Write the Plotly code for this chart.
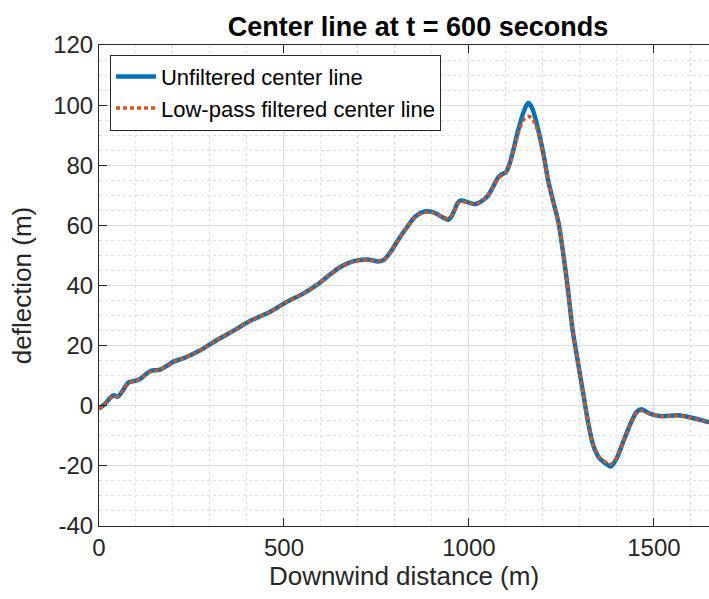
import plotly.graph_objects as go

# Downwind distance (m) sampled along the plume center line
distance = [0, 15, 30, 40, 50, 62, 80, 97, 110, 125, 140, 165, 185, 200, 228, 255,
            282, 318, 363, 408, 462, 507, 552, 588, 620, 650, 680, 705, 730, 755,
            770, 790, 813, 835, 854, 870, 886, 900, 912, 930, 944, 952, 960, 970,
            978, 994, 1010, 1021, 1040, 1052, 1066, 1080, 1092, 1100, 1110, 1120,
            1133, 1148, 1160, 1170, 1183, 1201, 1215, 1232, 1242, 1255, 1269, 1280,
            1296, 1309, 1322, 1336, 1354, 1372, 1384, 1399, 1417, 1435, 1453, 1467,
            1489, 1521, 1566, 1602, 1649]

# Deflection (m) of the raw center line
unfiltered = [-1.0, 0.5, 2.6, 3.5, 3.0, 4.6, 7.8, 8.3, 8.8, 10.3, 11.6, 12.0, 13.4, 14.6,
              15.8, 17.3, 19.0, 21.8, 24.9, 28.2, 31.2, 34.5, 37.3, 40.1, 43.2, 46.0,
              47.8, 48.5, 48.6, 48.0, 48.5, 51.5, 56.0, 59.8, 62.8, 64.2, 64.7, 64.5,
              63.9, 62.6, 61.9, 62.8, 64.8, 67.5, 68.3, 67.8, 67.2, 67.2, 68.5, 70.0,
              73.0, 76.1, 77.2, 77.6, 80.5, 85.0, 91.6, 97.8, 100.7, 99.3, 94.0, 84.0,
              74.5, 66.0, 61.0, 50.6, 37.3, 25.5, 13.5, 4.0, -5.4, -13.1, -17.6, -19.4,
              -20.2, -17.6, -12.0, -6.5, -2.1, -1.2, -2.6, -3.5, -3.2, -4.0, -5.5]

# Deflection (m) after the low-pass filter
filtered = [-1.0, 0.6, 2.4, 3.3, 3.1, 4.5, 7.5, 8.2, 8.8, 10.2, 11.4, 12.0, 13.4, 14.6,
            15.8, 17.3, 19.0, 21.8, 24.9, 28.2, 31.2, 34.5, 37.3, 40.1, 43.2, 46.0,
            47.7, 48.4, 48.5, 48.1, 48.6, 51.5, 56.0, 59.8, 62.6, 63.9, 64.4, 64.3,
            63.7, 62.7, 62.2, 63.0, 64.8, 67.2, 67.9, 67.7, 67.2, 67.2, 68.5, 70.0,
            73.0, 75.8, 77.0, 77.6, 80.3, 84.6, 90.5, 95.2, 96.3, 95.6, 92.5, 83.5,
            74.3, 66.0, 61.0, 50.6, 37.3, 25.5, 13.5, 4.0, -5.4, -13.0, -17.3, -18.9,
            -19.4, -17.3, -12.0, -6.6, -2.4, -1.7, -2.7, -3.5, -3.3, -4.0, -5.5]

# Axis tick positions and labels (plain hyphen for negatives)
x_ticks = [0, 500, 1000, 1500]
y_ticks = [-40, -20, 0, 20, 40, 60, 80, 100, 120]
y_tick_labels = ["-40", "-20", "0", "20", "40", "60", "80", "100", "120"]

axis_color = "#262626"
grid_color = "#dedede"
font_family = "Liberation Sans, Arial, Helvetica, sans-serif"

fig = go.Figure()
fig.add_trace(go.Scatter(
    x=distance, y=unfiltered, mode="lines",
    name="Unfiltered center line",
    line=dict(color="#0072BD", width=4.5, shape="spline", smoothing=0.8),
))
fig.add_trace(go.Scatter(
    x=distance, y=filtered, mode="lines",
    name="Low-pass filtered center line",
    line=dict(color="#D95319", width=3.3, dash="4px,3px", shape="spline", smoothing=0.8),
))

axis_common = dict(
    showline=True, linecolor=axis_color, linewidth=1,
    ticks="inside", ticklen=8, tickcolor=axis_color, tickwidth=1,
    tickfont=dict(size=24, color=axis_color, family=font_family),
    showgrid=True, gridcolor=grid_color, gridwidth=1,
    zeroline=False,
)

fig.update_xaxes(
    range=[0, 1649], tickvals=x_ticks,
    mirror="ticks",
    minor=dict(dtick=100, tick0=0, showgrid=True, gridcolor=grid_color,
               griddash="dot", gridwidth=1, ticks=""),
    title=dict(text="Downwind distance (m)", standoff=6,
               font=dict(size=26, color=axis_color, family=font_family)),
    **axis_common,
)
fig.update_yaxes(
    range=[-40, 120], tickvals=y_ticks, ticktext=y_tick_labels,
    minor=dict(dtick=5, tick0=0, showgrid=True, gridcolor=grid_color,
               griddash="dot", gridwidth=1, ticks=""),
    title=dict(text="deflection (m)", standoff=14,
               font=dict(size=26, color=axis_color, family=font_family)),
    **axis_common,
)

fig.update_layout(
    width=709, height=599,
    margin=dict(l=99, r=0, t=45, b=73, autoexpand=False),
    paper_bgcolor="white", plot_bgcolor="white",
    font=dict(family=font_family, color=axis_color),
    title=dict(text="<b>Center line at t = 600 seconds</b>",
               x=418 / 709, xref="container", xanchor="center",
               y=1 - 27 / 599, yref="container", yanchor="middle",
               font=dict(size=27, color="black", family=font_family)),
    legend=dict(
        x=0.018, y=0.98, xanchor="left", yanchor="top",
        bgcolor="white", bordercolor=axis_color, borderwidth=1,
        font=dict(size=22, color="black", family=font_family),
        itemwidth=40, tracegroupgap=0,
    ),
    showlegend=True,
)

fig.write_html("out.html")
